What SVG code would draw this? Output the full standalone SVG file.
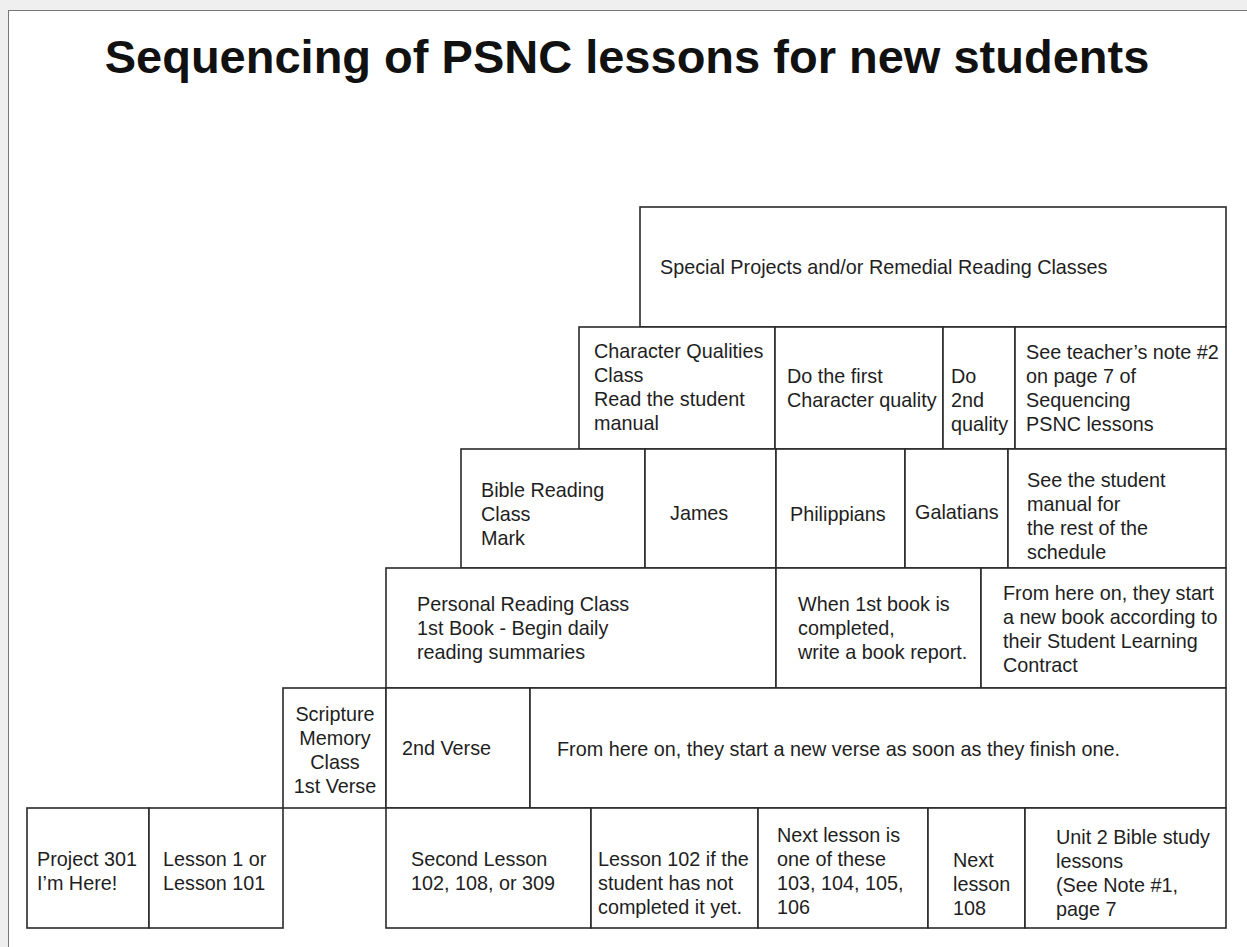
<svg xmlns="http://www.w3.org/2000/svg" width="1247" height="947" viewBox="0 0 1247 947">
<style>
.cell{fill:#fff;stroke:#2a2a2a;stroke-width:1.6}
text{font-family:"Liberation Sans",Arial,sans-serif;font-size:19.8px;fill:#1e1e1e}
.title{font-size:47px;font-weight:bold;fill:#111}
.mid{text-anchor:middle}
</style>
<rect x="0" y="0" width="1247" height="947" fill="#efefef"/>
<rect x="8.5" y="10.5" width="1250" height="950" fill="#fff" stroke="#777" stroke-width="1"/>
<text class="title" x="627" y="73" text-anchor="middle">Sequencing of PSNC lessons for new students</text>

<g id="special"><rect class="cell" x="640" y="207" width="586" height="120"/><text x="660" y="274">Special Projects and/or Remedial Reading Classes</text></g>

<g id="charq"><rect class="cell" x="579" y="327" width="196" height="122"/><text x="594" y="358">Character Qualities</text><text x="594" y="382">Class</text><text x="594" y="406">Read the student</text><text x="594" y="430">manual</text></g>
<g id="charq1"><rect class="cell" x="775" y="327" width="168" height="122"/><text x="787" y="383">Do the first</text><text x="787" y="407">Character quality</text></g>
<g id="charq2"><rect class="cell" x="943" y="327" width="72" height="122"/><text x="951" y="383">Do</text><text x="951" y="407">2nd</text><text x="951" y="431">quality</text></g>
<g id="charqnote"><rect class="cell" x="1015" y="327" width="211" height="122"/><text x="1026" y="359">See teacher’s note #2</text><text x="1026" y="383">on page 7 of</text><text x="1026" y="407">Sequencing</text><text x="1026" y="431">PSNC  lessons</text></g>

<g id="bible"><rect class="cell" x="461" y="449" width="184" height="119"/><text x="481" y="497">Bible Reading</text><text x="481" y="521">Class</text><text x="481" y="545">Mark</text></g>
<g id="james"><rect class="cell" x="645" y="449" width="131" height="119"/><text x="670" y="520">James</text></g>
<g id="phil"><rect class="cell" x="776" y="449" width="129" height="119"/><text x="790" y="521">Philippians</text></g>
<g id="gal"><rect class="cell" x="905" y="449" width="103" height="119"/><text x="915" y="519">Galatians</text></g>
<g id="biblenote"><rect class="cell" x="1008" y="449" width="218" height="119"/><text x="1027" y="487">See the student</text><text x="1027" y="511">manual for</text><text x="1027" y="535">the rest of the</text><text x="1027" y="559">schedule</text></g>

<g id="personal"><rect class="cell" x="386" y="568" width="390" height="120"/><text x="417" y="611">Personal Reading Class</text><text x="417" y="635">1st Book - Begin daily</text><text x="417" y="659">reading summaries</text></g>
<g id="bookreport"><rect class="cell" x="776" y="568" width="205" height="120"/><text x="798" y="611">When 1st book is</text><text x="798" y="635">completed,</text><text x="798" y="659">write a book report.</text></g>
<g id="personalnote"><rect class="cell" x="981" y="568" width="245" height="120"/><text x="1003" y="600">From here on, they start</text><text x="1003" y="624">a new book according to</text><text x="1003" y="648">their Student Learning</text><text x="1003" y="672">Contract</text></g>

<g id="scripture"><rect class="cell" x="283" y="688" width="103" height="120"/><text class="mid" x="335" y="721">Scripture</text><text class="mid" x="335" y="745">Memory</text><text class="mid" x="335" y="769">Class</text><text class="mid" x="335" y="793">1st Verse</text></g>
<g id="verse2"><rect class="cell" x="386" y="688" width="144" height="120"/><text x="402" y="755">2nd Verse</text></g>
<g id="versenote"><rect class="cell" x="530" y="688" width="696" height="120"/><text x="557" y="756">From here on, they start a new verse as soon as they finish one.</text></g>

<g id="p301"><rect class="cell" x="27" y="808" width="122" height="120"/><text x="37" y="866">Project 301</text><text x="37" y="890">I’m Here!</text></g>
<g id="l101"><rect class="cell" x="149" y="808" width="134" height="120"/><text x="163" y="866">Lesson 1 or</text><text x="163" y="890">Lesson 101</text></g>
<g id="second"><rect class="cell" x="386" y="808" width="205" height="120"/><text x="411" y="866">Second Lesson</text><text x="411" y="890">102, 108, or 309</text></g>
<g id="l102"><rect class="cell" x="591" y="808" width="167" height="120"/><text x="598" y="866">Lesson 102 if the</text><text x="598" y="890">student has not</text><text x="598" y="914">completed it yet.</text></g>
<g id="nextof"><rect class="cell" x="758" y="808" width="170" height="120"/><text x="777" y="842">Next lesson is</text><text x="777" y="866">one of these</text><text x="777" y="890">103, 104, 105,</text><text x="777" y="914">106</text></g>
<g id="l108"><rect class="cell" x="928" y="808" width="97" height="120"/><text x="953" y="867">Next</text><text x="953" y="891">lesson</text><text x="953" y="915">108</text></g>
<g id="unit2"><rect class="cell" x="1025" y="808" width="201" height="120"/><text x="1056" y="844">Unit 2 Bible study</text><text x="1056" y="868">lessons</text><text x="1056" y="892">(See Note #1,</text><text x="1056" y="916">page 7</text></g>
<g id="connectors"></g>
</svg>
